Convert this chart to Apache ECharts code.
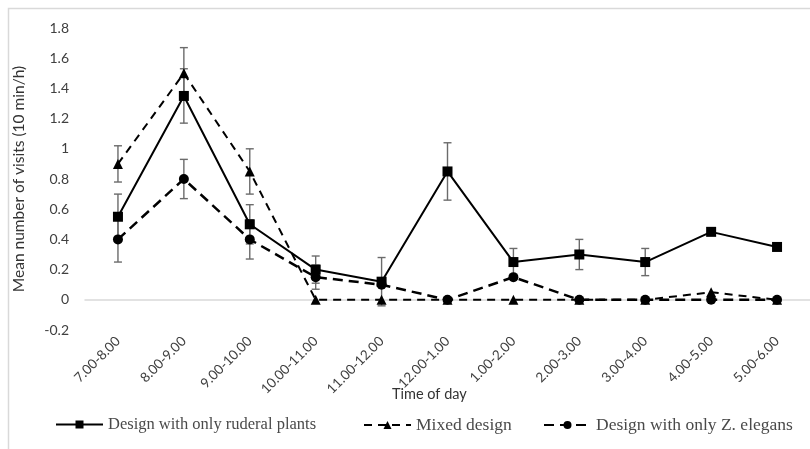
<!DOCTYPE html>
<html>
<head>
<meta charset="utf-8">
<script src="https://cdn.jsdelivr.net/npm/echarts@6/dist/echarts.min.js"></script>
<style>html,body{margin:0;padding:0;background:#fff;}#c{width:810px;height:449px;}</style>
</head>
<body>
<div id="c"></div>
<script>
const categories = ['7.00-8.00','8.00-9.00','9.00-10.00','10.00-11.00','11.00-12.00','12.00-1.00','1.00-2.00','2.00-3.00','3.00-4.00','4.00-5.00','5.00-6.00'];
const ruderal = [0.55, 1.35, 0.5, 0.2, 0.12, 0.85, 0.25, 0.3, 0.25, 0.45, 0.35];
const ruderalErr = [0.15, 0.18, 0.13, 0.09, 0.16, 0.19, 0.09, 0.1, 0.09, null, null];
const mixed = [0.9, 1.5, 0.85, 0, 0, 0, 0, 0, 0, 0.05, 0];
const mixedErr = [0.12, 0.17, 0.15, null, null, null, null, null, null, null, null];
const zelegans = [0.4, 0.8, 0.4, 0.15, 0.1, 0, 0.15, 0, 0, 0, 0];
const zelegansErr = [0.15, 0.13, 0.13, 0.08, null, null, null, null, null, null, null];
const yTicks = {min: -0.2, max: 1.8, step: 0.2};
const names = ['Design with only ruderal plants', 'Mixed design', 'Design with only Z. elegans'];
const xTitle = 'Time of day';

function errData(vals, errs) {
  const out = [];
  vals.forEach((v, i) => { if (errs[i] != null) out.push([i, v - errs[i], v + errs[i]]); });
  return out;
}
function errSeries(vals, errs) {
  return {
    type: 'custom',
    silent: true,
    z: 1,
    data: errData(vals, errs),
    renderItem: function (params, api) {
      const x = api.value(0);
      const lo = api.coord([x, api.value(1)]);
      const hi = api.coord([x, api.value(2)]);
      const w = 4;
      const style = {stroke: '#6b6b6b', lineWidth: 1.4, fill: null};
      return {
        type: 'group',
        children: [
          {type: 'line', shape: {x1: lo[0], y1: lo[1], x2: hi[0], y2: hi[1]}, style: style},
          {type: 'line', shape: {x1: lo[0]-w, y1: lo[1], x2: lo[0]+w, y2: lo[1]}, style: style},
          {type: 'line', shape: {x1: hi[0]-w, y1: hi[1], x2: hi[0]+w, y2: hi[1]}, style: style}
        ]
      };
    }
  };
}
function legendAt(left, name, size) {
  return {
    left: left, top: 411,
    itemWidth: 47, itemHeight: 10,
    textStyle: {fontFamily: 'Liberation Serif', fontSize: size, color: '#4a4a4a'},
    data: [name]
  };
}

const chart = echarts.init(document.getElementById('c'), null, {renderer: 'canvas'});
chart.setOption({
  animation: false,
  backgroundColor: '#fff',
  graphic: [{
    type: 'rect', shape: {x: 8.5, y: 8.5, width: 830, height: 460},
    style: {fill: null, stroke: '#d9d9d9', lineWidth: 1.5}, silent: true, z: -10
  }, {
    type: 'text', left: 392, top: 387, silent: true,
    style: {text: xTitle, fontFamily: 'Lato', fontSize: 14.5, fill: '#333'}
  }],
  grid: {left: 85, right: -8, top: 28, bottom: 119, containLabel: false},
  legend: [
    legendAt(50, names[0], 16.5),
    legendAt(358, names[1], 17.5),
    legendAt(538, names[2], 17.5)
  ],
  xAxis: {
    type: 'category',
    data: categories,
    boundaryGap: true,
    axisLine: {onZero: true, lineStyle: {color: '#d9d9d9', width: 1.5}},
    axisTick: {show: false},
    axisLabel: {rotate: 45, margin: 9, fontFamily: 'Lato', fontSize: 13.5, color: '#404040', interval: 0},
    splitLine: {show: false}
  },
  yAxis: {
    type: 'value',
    min: yTicks.min, max: yTicks.max, interval: yTicks.step,
    name: 'Mean number of visits (10 min/h)',
    nameLocation: 'middle',
    nameGap: 58,
    nameTextStyle: {fontFamily: 'Lato', fontSize: 15.5, color: '#333'},
    axisLine: {show: false},
    axisTick: {show: false},
    splitLine: {show: false},
    axisLabel: {margin: 16, fontFamily: 'Lato', fontSize: 14, color: '#404040',
      formatter: v => { const r = Math.round(v*10)/10; return String(r); }}
  },
  series: [
    {
      name: names[0], type: 'line', data: ruderal, z: 3,
      symbol: 'rect', symbolSize: 10,
      lineStyle: {color: '#000', width: 2, type: 'solid'},
      itemStyle: {color: '#000'}
    },
    {
      name: names[1], type: 'line', data: mixed, z: 3,
      symbol: 'triangle', symbolSize: 10,
      lineStyle: {color: '#000', width: 2, type: [8, 6]},
      itemStyle: {color: '#000'}
    },
    {
      name: names[2], type: 'line', data: zelegans, z: 3,
      symbol: 'circle', symbolSize: 10,
      lineStyle: {color: '#000', width: 2.5, type: [10, 6]},
      itemStyle: {color: '#000'}
    },
    errSeries(ruderal, ruderalErr),
    errSeries(mixed, mixedErr),
    errSeries(zelegans, zelegansErr)
  ]
});
</script>
</body>
</html>
